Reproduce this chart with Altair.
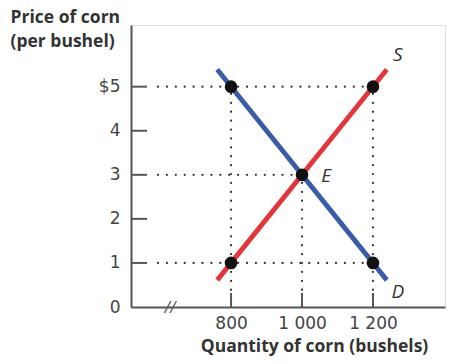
import altair as alt
import pandas as pd

# Data
supply_q = [761, 1239]
supply_p = [0.61, 5.39]
demand_q = [761, 1239]
demand_p = [5.39, 0.61]
point_q = [800, 1200, 1000, 800, 1200]
point_p = [5, 5, 3, 1, 1]
y_ticks = [1, 2, 3, 4, 5]
y_axis_values = [0, 1, 2, 3, 4, 5]
x_ticks = [800, 1000, 1200]
guide_start_q = 594
guide_start_p = 0.39
h_guides_p = [5, 3, 1]
h_guides_q = [1200, 1000, 1200]
v_guides_q = [800, 1000, 1200]
v_guides_p = [5, 3, 5]
curve_labels = ["S", "D", "E"]
curve_label_q = [1270, 1270, 1068]
curve_label_p = [5.73, 0.34, 2.98]
break_q = 628

W, H = 314, 282
xs = alt.Scale(domain=[518, 1403], nice=False, zero=False)
ys = alt.Scale(domain=[0, 6.4], nice=False, zero=False)

FONT = "Open Sans"
LFONT = "DejaVu Sans"
GRAY = "#555555"

lines_df = pd.DataFrame({
    "q": supply_q + demand_q,
    "p": supply_p + demand_p,
    "curve": ["S", "S", "D", "D"],
})
pts_df = pd.DataFrame({"q": point_q, "p": point_p})
hg_df = pd.DataFrame({"q0": [guide_start_q] * 3, "q1": h_guides_q, "p": h_guides_p})
vg_df = pd.DataFrame({"q": v_guides_q, "p0": [guide_start_p] * 3, "p1": v_guides_p})
ytick_df = pd.DataFrame({"p": y_ticks})
xtick_df = pd.DataFrame({"q": x_ticks})
lab_df = pd.DataFrame({"t": curve_labels, "q": curve_label_q, "p": curve_label_p})
brk_df = pd.DataFrame({"q": [break_q], "p": [0], "t": ["//"]})

label_expr = "datum.value == 5 ? '$5' : datum.label"
xlabel_expr = "datum.value == 1000 ? '1 000' : (datum.value == 1200 ? '1 200' : datum.label)"

XAX = alt.Axis(
    values=x_ticks, labelExpr=xlabel_expr, tickSize=0, labelPadding=8,
    domainColor=GRAY, domainWidth=2, labelColor="#444444", labelFont=LFONT,
    labelFontSize=17, grid=False,
    title="Quantity of corn (bushels)", titleFont=FONT, titleFontSize=17.5,
    titleFontWeight="bold", titleColor="#333333", titlePadding=6, titleX=183)
YAX = alt.Axis(
    values=y_axis_values, labelExpr=label_expr, tickSize=0, labelPadding=11,
    domainColor=GRAY, domainWidth=2, labelColor="#444444", labelFont=LFONT,
    labelFontSize=17, grid=False,
    title=["Price of corn", "(per bushel)"], titleAngle=0, titleAlign="left",
    titleBaseline="top", titleX=-121, titleY=-17, titleFont=FONT,
    titleFontSize=17.5, titleFontWeight="bold", titleColor="#333333",
    titleLineHeight=24)


def X(f):
    return alt.X(f, type="quantitative", scale=xs, axis=XAX)


def Y(f):
    return alt.Y(f, type="quantitative", scale=ys, axis=YAX)


yticks = alt.Chart(ytick_df).mark_rule(color=GRAY, strokeWidth=2).encode(
    y=Y("p"), x=alt.value(0), x2=alt.value(16))
xticks = alt.Chart(xtick_df).mark_rule(color=GRAY, strokeWidth=2).encode(
    x=X("q"), y=alt.value(H), y2=alt.value(H - 14))

hguides = alt.Chart(hg_df).mark_rule(color="#333333", strokeWidth=2.2,
                                     strokeDash=[0.1, 8.8], strokeCap="round").encode(
    x=X("q0"), x2="q1:Q", y=Y("p"))
vguides = alt.Chart(vg_df).mark_rule(color="#333333", strokeWidth=2.2,
                                     strokeDash=[0.1, 8.8], strokeCap="round").encode(
    x=X("q"), y=Y("p0"), y2="p1:Q")

curves = alt.Chart(lines_df).mark_line(strokeWidth=4.8, strokeCap="butt").encode(
    x=X("q"), y=Y("p"), detail="curve:N",
    color=alt.Color("curve:N", scale=alt.Scale(domain=["S", "D"],
                                               range=["#e2353c", "#3a5ba6"]), legend=None))

pts = alt.Chart(pts_df).mark_circle(size=160, color="#111111", opacity=1).encode(
    x=X("q"), y=Y("p"))

labels = alt.Chart(lab_df).mark_text(font=FONT, fontSize=19, fontStyle="italic",
                                     color="#333333", align="center").encode(
    x=X("q"), y=Y("p"), text="t:N")

brk = alt.Chart(brk_df).mark_text(font=FONT, fontSize=16, fontStyle="italic",
                                  color=GRAY, align="center", baseline="middle", dy=1).encode(
    x=X("q"), y=Y("p"), text="t:N")

chart = alt.layer(hguides, vguides, yticks, xticks, curves, pts, labels, brk).properties(
    width=W, height=H,
    autosize=alt.AutoSizeParams(type="none"),
    padding={"left": 131, "top": 25, "right": 6, "bottom": 57},
).configure_view(stroke=None).configure(background="white")

chart.save("out.html", embed_options={"renderer": "svg", "actions": False})
